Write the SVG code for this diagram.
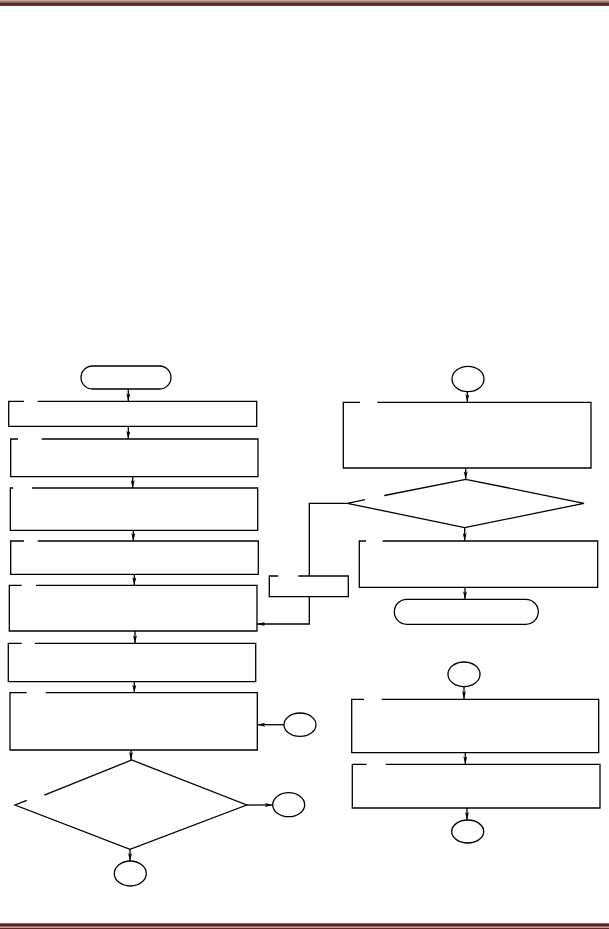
<svg xmlns="http://www.w3.org/2000/svg" width="609" height="929" viewBox="0 0 609 929">
<style>
.s{fill:none;stroke:#000;stroke-width:1.3}
.c{fill:none;stroke:#000;stroke-width:1.3}
.band{fill:#622423}
</style>
<defs>
<marker id="ah" viewBox="0 0 8 4" markerUnits="userSpaceOnUse" markerWidth="8" markerHeight="4" refX="8" refY="2" orient="auto">
<path d="M0,0 L8,2 L0,4 L2,2 z" fill="#000"/>
</marker>
</defs>
<rect width="609" height="929" fill="#fff"/>
<g id="header">
<rect class="band" x="0" y="0.6" width="609" height="1"/>
<rect class="band" x="0" y="2.3" width="609" height="3.6"/>
</g>
<g id="footer">
<rect class="band" x="0" y="923.3" width="609" height="3.4"/>
<rect class="band" x="0" y="927.6" width="609" height="1.4"/>
</g>
<g id="start-left"><rect class="s" x="81" y="366" width="90" height="23" rx="11.5"/></g>
<g id="box1"><path class="s" d="M37.7,401.3 H256.7 V426.3 H8.7 V401.3 H24"/></g>
<g id="box2"><path class="s" d="M41.7,439 H258 V476.7 H10.7 V439 H18"/></g>
<g id="box3"><path class="s" d="M32,488 H257.7 V530.3 H10.3 V488 H13"/></g>
<g id="box4"><path class="s" d="M37.7,541 H258.3 V574.3 H10.7 V541 H24"/></g>
<g id="box5"><path class="s" d="M36,585.3 H257 V631 H9.3 V585.3 H21.7"/></g>
<g id="box6"><path class="s" d="M35,643.3 H255.7 V681.7 H8.3 V643.3 H21.7"/></g>
<g id="box7"><path class="s" d="M45.7,692.7 H257.3 V750 H10 V692.7 H26.7"/></g>
<g id="conn-left-in"><ellipse class="s" cx="300" cy="724.7" rx="16" ry="11.7"/></g>
<g id="decision-left"><path class="s" d="M44.3,795.2 L131.7,760 L246.7,805 L130,849.3 L15,805 L26.7,800.3"/></g>
<g id="conn-left-right"><ellipse class="s" cx="288.7" cy="804.7" rx="16" ry="12"/></g>
<g id="conn-left-bottom"><ellipse class="s" cx="130.3" cy="873.5" rx="16" ry="12.5"/></g>
<g id="small-box"><path class="s" d="M298.3,576 H348.3 V596.7 H269.3 V576 H278.3"/></g>
<g id="conn-right-top"><ellipse class="s" cx="468" cy="379" rx="16" ry="12.7"/></g>
<g id="boxR1"><path class="s" d="M377.3,402.3 H591 V468 H343.3 V402.3 H360"/></g>
<g id="decision-right"><path class="s" d="M384.3,495.5 L465.7,479.3 L584,503.3 L464.7,527.7 L347.3,503.3 L365,499.7"/></g>
<g id="boxR2"><path class="s" d="M382.7,541 H597.7 V587.3 H359.3 V541 H366"/></g>
<g id="end-right"><rect class="s" x="394.3" y="599.3" width="144" height="25" rx="12.5"/></g>
<g id="conn-right-mid"><ellipse class="s" cx="464" cy="674.3" rx="16" ry="12.3"/></g>
<g id="boxR3"><path class="s" d="M381.7,699.3 H598.7 V752.7 H351.7 V699.3 H364"/></g>
<g id="boxR4"><path class="s" d="M385.7,764.3 H600 V808 H352.3 V764.3 H366.7"/></g>
<g id="conn-right-bottom"><ellipse class="s" cx="467.7" cy="831.5" rx="16" ry="11.5"/></g>
<g id="connectors">
<line class="c" x1="128.3" y1="389" x2="128.3" y2="401.3" marker-end="url(#ah)"/>
<line class="c" x1="128.3" y1="426.3" x2="128.3" y2="439" marker-end="url(#ah)"/>
<line class="c" x1="132.7" y1="476.7" x2="132.7" y2="488" marker-end="url(#ah)"/>
<line class="c" x1="133.3" y1="530.3" x2="133.3" y2="541" marker-end="url(#ah)"/>
<line class="c" x1="134.3" y1="574.3" x2="134.3" y2="585.3" marker-end="url(#ah)"/>
<line class="c" x1="135" y1="631" x2="135" y2="643.3" marker-end="url(#ah)"/>
<line class="c" x1="134.3" y1="681.7" x2="134.3" y2="692.7" marker-end="url(#ah)"/>
<line class="c" x1="131" y1="750" x2="131" y2="760" marker-end="url(#ah)"/>
<line class="c" x1="284" y1="724.7" x2="257.3" y2="724.7" marker-end="url(#ah)"/>
<line class="c" x1="246.7" y1="805" x2="272.7" y2="805" marker-end="url(#ah)"/>
<line class="c" x1="130" y1="849.3" x2="130" y2="861" marker-end="url(#ah)"/>
<path class="c" d="M347.3,503.3 H309.3 V576"/>
<path class="c" d="M309.3,596.7 V624 H257" marker-end="url(#ah)"/>
<line class="c" x1="467.3" y1="391.7" x2="467.3" y2="402.3" marker-end="url(#ah)"/>
<line class="c" x1="465.7" y1="468" x2="465.7" y2="479.3" marker-end="url(#ah)"/>
<line class="c" x1="464.7" y1="527.7" x2="464.7" y2="541" marker-end="url(#ah)"/>
<line class="c" x1="465" y1="587.3" x2="465" y2="599.3" marker-end="url(#ah)"/>
<line class="c" x1="464" y1="686.6" x2="464" y2="699.3" marker-end="url(#ah)"/>
<line class="c" x1="465.3" y1="752.7" x2="465.3" y2="764.3" marker-end="url(#ah)"/>
<line class="c" x1="467" y1="808" x2="467" y2="820" marker-end="url(#ah)"/>
</g>
</svg>
